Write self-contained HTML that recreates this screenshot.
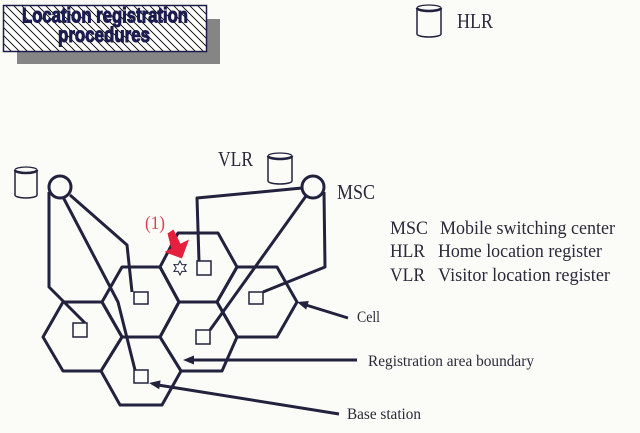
<!DOCTYPE html>
<html><head><meta charset="utf-8"><style>
html,body{margin:0;padding:0;background:#fbfbf7;}
svg{display:block;}
</style></head><body>
<svg width="640" height="433" viewBox="0 0 640 433" xmlns="http://www.w3.org/2000/svg">
<defs>
<pattern id="h" width="8" height="8" patternUnits="userSpaceOnUse">
<path d="M-2,-2 L10,10 M-2,6 L2,10 M6,-2 L10,2" stroke="#000" stroke-width="0.9" fill="none"/>
</pattern>
</defs>
<rect width="640" height="433" fill="#fbfbf7"/>

<!-- Title -->
<rect x="17" y="19" width="203" height="45" fill="#858585"/>
<rect x="3.5" y="5.5" width="203" height="46" fill="#fff"/>
<rect x="3.5" y="5.5" width="203" height="46" fill="url(#h)" stroke="#1c1c4a" stroke-width="1.5"/>
<g font-family="'Liberation Sans Narrow','Liberation Sans',sans-serif" font-weight="bold" font-size="21" fill="#1c1c50" stroke="#1c1c50" stroke-width="1">
<text x="22" y="22.5" textLength="166" lengthAdjust="spacingAndGlyphs">Location registration</text>
<text x="58" y="42" textLength="92" lengthAdjust="spacingAndGlyphs">procedures</text>
</g>

<!-- Cylinders -->
<g fill="none" stroke="#22223f">
<path d="M417,8 V34 A12 3 0 0 0 441,34 V8" stroke-width="1.5"/>
<ellipse cx="429" cy="8" rx="12" ry="3" stroke-width="1.2"/>
<path d="M417,8 A12 3 0 0 0 441,8" stroke-width="2.5"/>

<path d="M268,156 V181 A12 3 0 0 0 292,181 V156" stroke-width="1.5"/>
<ellipse cx="280" cy="156" rx="12" ry="3" stroke-width="1.2"/>
<path d="M268,156 A12 3 0 0 0 292,156" stroke-width="2.5"/>

<path d="M15,170 V195 A11 3 0 0 0 37,195 V170" stroke-width="1.5"/>
<ellipse cx="26" cy="170" rx="11" ry="3" stroke-width="1.2"/>
<path d="M15,170 A11 3 0 0 0 37,170" stroke-width="2.5"/>
</g>

<!-- Hexagons -->
<g fill="none" stroke="#22223f" stroke-width="3" stroke-linejoin="round">
<polygon points="43,337 63,302 102,302 122,337 101,371 63,371"/>
<polygon points="102,302 122,267 160,267 179,302 160,337 122,337"/>
<polygon points="101,371 122,337 160,337 181,371 162,405 120,405"/>
<polygon points="160,337 179,302 217,302 237,337 222,371 181,371"/>
<polygon points="217,302 237,267 277,267 297,302 277,337 237,337"/>
<polygon points="160,267 178,233 218,233 237,267 217,302 179,302"/>
</g>

<!-- Connectors -->
<g fill="none" stroke="#22223f" stroke-width="3" stroke-linejoin="round">
<polyline points="49,192 49,287 85,323"/>
<polyline points="63,197 118,302 135,370"/>
<polyline points="70,195 127,245 132,292"/>
<polyline points="302,188 197,198 199,261"/>
<polyline points="324,192 325,267 263,292"/>
<polyline points="306,196 210,330"/>
<circle cx="60" cy="187" r="11"/>
<circle cx="313" cy="187" r="11"/>
</g>

<!-- Base station squares -->
<g fill="#fbfbf7" stroke="#22223f" stroke-width="1.5">
<rect x="73" y="323" width="14" height="14"/>
<rect x="134" y="292" width="14" height="12"/>
<rect x="134" y="370" width="14" height="13"/>
<rect x="196" y="330" width="14" height="14"/>
<rect x="249" y="292" width="14" height="12"/>
<rect x="197" y="261" width="14" height="14"/>
</g>

<!-- Label arrows -->
<g stroke="#22223f" stroke-width="3" fill="none">
<line x1="348" y1="318" x2="306" y2="305"/>
<line x1="357" y1="360" x2="193" y2="360"/>
<line x1="339" y1="414" x2="158" y2="385"/>
</g>
<g fill="#22223f">
<polygon points="297,302 306.2,309.6 308.8,301"/>
<polygon points="183,360 194,355.5 194,364.5"/>
<polygon points="149,383 159.2,389.2 160.6,380.4"/>
</g>

<!-- Red arrow and star -->
<polygon points="167.5,233.5 173.5,229.5 180.5,243.8 189,239.5 182,258.5 164.5,252 171.3,248.5" fill="#e5203c"/>
<polygon points="180,261 181.9,264.7 186.06,264.5 183.8,268 186.06,271.5 181.9,271.3 180,275 178.1,271.3 173.94,271.5 176.2,268 173.94,264.5 178.1,264.7" fill="#fff" stroke="#22223f" stroke-width="1"/>
<text x="145" y="229" font-family="'Liberation Serif',serif" font-size="19" fill="#e04050" textLength="20" lengthAdjust="spacingAndGlyphs">(1)</text>

<!-- Labels -->
<g font-family="'Liberation Serif',serif" fill="#2a2a3a">
<text x="457" y="28" font-size="21" textLength="36" lengthAdjust="spacingAndGlyphs">HLR</text>
<text x="218" y="166" font-size="21" textLength="35" lengthAdjust="spacingAndGlyphs">VLR</text>
<text x="337" y="199" font-size="21" textLength="38" lengthAdjust="spacingAndGlyphs">MSC</text>

<text x="390" y="234" font-size="19" textLength="38" lengthAdjust="spacingAndGlyphs">MSC</text>
<text x="440" y="234" font-size="19" textLength="175" lengthAdjust="spacingAndGlyphs">Mobile switching center</text>
<text x="390" y="257" font-size="19" textLength="35" lengthAdjust="spacingAndGlyphs">HLR</text>
<text x="438" y="257" font-size="19" textLength="164" lengthAdjust="spacingAndGlyphs">Home location register</text>
<text x="390" y="281" font-size="19" textLength="35" lengthAdjust="spacingAndGlyphs">VLR</text>
<text x="438" y="281" font-size="19" textLength="172" lengthAdjust="spacingAndGlyphs">Visitor location register</text>

<text x="357" y="322" font-size="16" textLength="23" lengthAdjust="spacingAndGlyphs">Cell</text>
<text x="368" y="366" font-size="16" textLength="166" lengthAdjust="spacingAndGlyphs">Registration area boundary</text>
<text x="347" y="419" font-size="16" textLength="74" lengthAdjust="spacingAndGlyphs">Base station</text>
</g>
</svg>
</body></html>
